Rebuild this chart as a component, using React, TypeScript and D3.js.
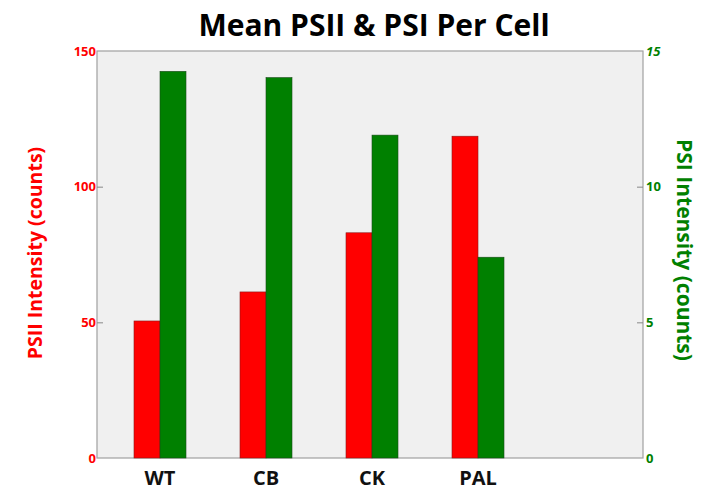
import React, { useEffect, useRef } from "react";
import * as d3 from "d3";

const categories = ["WT", "CB", "CK", "PAL"];
const psiiValues = [50.5, 61.2, 83, 118.6];
const psiValues = [14.25, 14.02, 11.9, 7.4];
const leftTicks = [0, 50, 100, 150];
const rightTicks = [0, 5, 10, 15];

const W = 704;
const H = 490;

const App: React.FC = () => {
  const ref = useRef<SVGSVGElement>(null);

  useEffect(() => {
    if (!ref.current) return;
    const margin = { top: 51, right: 61, bottom: 32, left: 97 };
    const iw = W - margin.left - margin.right;
    const ih = H - margin.top - margin.bottom;

    const svg = d3.select(ref.current).html("");
    const g = svg.append("g").attr("transform", `translate(${margin.left},${margin.top})`);

    // plot background
    g.append("rect")
      .attr("width", iw)
      .attr("height", ih)
      .attr("fill", "#f0f0f0")
      .attr("stroke", "#a0a0a0")
      .attr("stroke-width", 1.2);

    // groups do not fill the full width in the original
    const x = d3.scaleBand<string>().domain(categories).range([10, 434]).paddingInner(0.5).paddingOuter(0.25);
    const yL = d3.scaleLinear().domain([0, 150]).range([ih, 0]);
    const yR = d3.scaleLinear().domain([0, 15]).range([ih, 0]);
    const bw = 26;

    const grp = g.selectAll("g.grp").data(categories).enter().append("g")
      .attr("transform", (d) => `translate(${x(d)! + x.bandwidth() / 2},0)`);

    grp.append("rect")
      .attr("x", -bw)
      .attr("width", bw)
      .attr("y", (_, i) => yL(psiiValues[i]))
      .attr("height", (_, i) => ih - yL(psiiValues[i]))
      .attr("fill", "#ff0000")
      .attr("stroke", "#8a1a1a")
      .attr("stroke-width", 0.6);

    grp.append("rect")
      .attr("x", 0)
      .attr("width", bw)
      .attr("y", (_, i) => yR(psiValues[i]))
      .attr("height", (_, i) => ih - yR(psiValues[i]))
      .attr("fill", "#008000")
      .attr("stroke", "#1a4a1a")
      .attr("stroke-width", 0.6);

    // left axis
    const la = g.append("g").call(d3.axisLeft(yL).tickValues(leftTicks).tickSize(-6).tickPadding(2));
    la.select(".domain").remove();
    la.selectAll(".tick line").attr("stroke", "#888");
    la.selectAll(".tick text")
      .attr("fill", "#ff0000")
      .attr("font-family", "Open Sans, sans-serif")
      .attr("font-size", 13)
      .attr("font-weight", "bold")
      .attr("x", -1);
    la.selectAll(".tick").filter((d: any) => d === 0 || d === 150).select("line").remove();

    // right axis
    const ra = g.append("g").attr("transform", `translate(${iw},0)`)
      .call(d3.axisRight(yR).tickValues(rightTicks).tickSize(-6).tickPadding(2));
    ra.select(".domain").remove();
    ra.selectAll(".tick line").attr("stroke", "#888");
    ra.selectAll(".tick text")
      .attr("fill", "#008000")
      .attr("font-family", "Open Sans, sans-serif")
      .attr("font-size", 13)
      .attr("font-weight", "bold")
      .attr("x", 3);
    ra.selectAll(".tick").filter((d: any) => d === 15).select("text").attr("font-style", "italic");
    ra.selectAll(".tick").filter((d: any) => d === 0 || d === 15).select("line").remove();

    // category labels
    g.append("g").selectAll("text").data(categories).enter().append("text")
      .attr("x", (d) => x(d)! + x.bandwidth() / 2)
      .attr("y", ih + 27)
      .attr("text-anchor", "middle")
      .attr("font-family", "Open Sans, sans-serif")
      .attr("font-weight", "bold")
      .attr("font-size", 20)
      .attr("fill", "#111")
      .text((d) => d);

    // title
    svg.append("text")
      .attr("x", 374)
      .attr("y", 36)
      .attr("text-anchor", "middle")
      .attr("font-family", "Open Sans, sans-serif")
      .attr("font-weight", "bold")
      .attr("font-size", 30)
      .attr("fill", "#000")
      .text("Mean PSII & PSI Per Cell");

    svg.append("text")
      .attr("transform", `translate(42,253) rotate(-90)`)
      .attr("text-anchor", "middle")
      .attr("font-family", "Open Sans, sans-serif")
      .attr("font-weight", "bold")
      .attr("font-size", 19.5)
      .attr("fill", "#ff0000")
      .text("PSII Intensity (counts)");

    svg.append("text")
      .attr("transform", `translate(677,250) rotate(90)`)
      .attr("text-anchor", "middle")
      .attr("font-family", "Open Sans, sans-serif")
      .attr("font-weight", "bold")
      .attr("font-size", 21)
      .attr("fill", "#008000")
      .text("PSI Intensity (counts)");
  }, []);

  return (
    <svg
      ref={ref}
      width={W}
      height={H}
      style={{ position: "absolute", left: 0, top: 0, display: "block", background: "#fff" }}
    />
  );
};

export default App;
